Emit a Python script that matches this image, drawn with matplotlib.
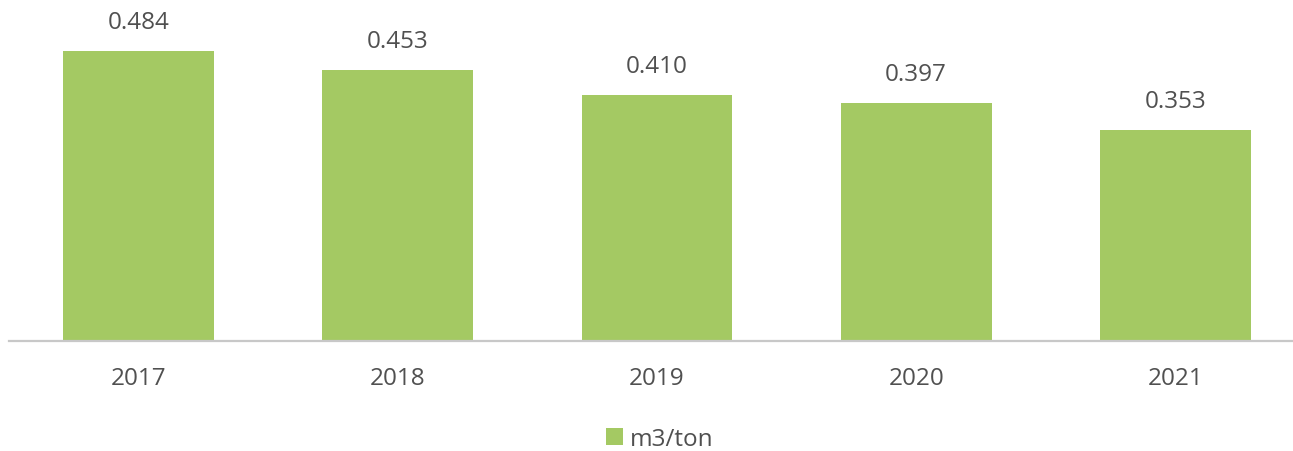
import matplotlib
matplotlib.use("Agg")
import matplotlib.pyplot as plt
from matplotlib.patches import Patch

years = ["2017", "2018", "2019", "2020", "2021"]
values = [0.484, 0.453, 0.410, 0.397, 0.353]
labels = ["0.484", "0.453", "0.410", "0.397", "0.353"]
series_name = "m3/ton"

W, H = 1293, 452
fig = plt.figure(figsize=(W / 100, H / 100), dpi=100)
plt.rcParams['font.family'] = ['Open Sans', 'DejaVu Sans']

bar_color = "#a4c963"
text_color = "#505050"
fs = 17.5

ax = fig.add_axes([9 / W, 1 - 342 / H, (W - 9) / W, 342 / H])
x = list(range(len(years)))
ax.bar(x, values, width=0.582, color=bar_color, zorder=2)
ax.set_xlim(-0.5, 4.454)
ax.set_ylim(0, 342 / 599)

for xi, v, lab in zip(x, values, labels):
    ax.annotate(lab, (xi, v), xytext=(0, 29), textcoords="offset pixels",
                ha="center", va="center", fontsize=fs, color=text_color)

for s in ["top", "right", "left"]:
    ax.spines[s].set_visible(False)
ax.spines["bottom"].set_color("#c8c8c8")
ax.spines["bottom"].set_linewidth(1.6)
ax.set_yticks([])
ax.set_xticks(x)
ax.set_xticklabels(years, fontsize=fs, color=text_color)
ax.tick_params(axis="x", length=0, pad=18)

handles = [Patch(facecolor=bar_color, edgecolor="none")]
fig.legend(handles, [series_name], loc="center", bbox_to_anchor=(660 / W, 1 - 440 / H),
           frameon=False, fontsize=fs, labelcolor=text_color,
           handlelength=0.7, handleheight=0.7, handletextpad=0.3)

fig.savefig("out.png", dpi=100)
